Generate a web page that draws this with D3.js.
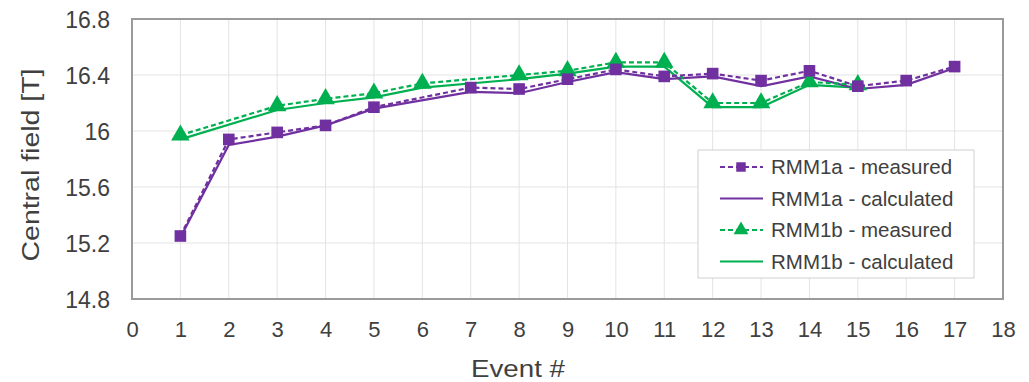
<!DOCTYPE html>
<html>
<head>
<meta charset="utf-8">
<script src="https://cdn.jsdelivr.net/npm/d3@7"></script>
<style>
  body { margin: 0; background: #fff; }
  svg { font-family: Arial, "Liberation Sans", sans-serif; }
</style>
</head>
<body>
<svg width="1029" height="382"></svg>
<script>
// event numbers and the four series (null = no point at that event)
const events = [1, 2, 3, 4, 5, 6, 7, 8, 9, 10, 11, 12, 13, 14, 15, 16, 17];
const rmm1aMeasured   = [15.25, 15.94, 15.99, 16.04, 16.17, null, 16.31, 16.30, 16.37, 16.44, 16.39, 16.41, 16.36, 16.43, 16.32, 16.36, 16.46];
const rmm1aCalculated = [15.24, 15.90, 15.96, 16.04, 16.16, null, 16.28, 16.27, 16.35, 16.42, 16.37, 16.39, 16.32, 16.39, 16.30, 16.33, 16.45];
const rmm1bMeasured   = [15.97, null, 16.18, 16.23, 16.27, 16.34, null, 16.40, 16.43, 16.49, 16.49, 16.20, 16.20, 16.35, 16.33, null, null];
const rmm1bCalculated = [15.94, null, 16.15, 16.20, 16.24, 16.31, null, 16.37, 16.41, 16.46, 16.46, 16.17, 16.17, 16.33, 16.31, null, null];
const xTicks = d3.range(0, 19);
const yTicks = [14.8, 15.2, 15.6, 16, 16.4, 16.8];

const purple = "#7030a0";
const green = "#00b050";
const textColor = "#404040";

const series = [
  { name: "RMM1a - measured", values: rmm1aMeasured, color: purple, dash: "5,3", marker: "square" },
  { name: "RMM1a - calculated", values: rmm1aCalculated, color: purple, dash: null, marker: null },
  { name: "RMM1b - measured", values: rmm1bMeasured, color: green, dash: "5,3", marker: "triangle" },
  { name: "RMM1b - calculated", values: rmm1bCalculated, color: green, dash: null, marker: null }
];

const svg = d3.select("svg");
const margin = { left: 132, right: 1003, top: 19, bottom: 299 };

const x = d3.scaleLinear().domain([0, 18]).range([margin.left, margin.right]);
const y = d3.scaleLinear().domain([14.8, 16.8]).range([margin.bottom, margin.top]);

// grid
const grid = svg.append("g").attr("class", "grid");
grid.selectAll("line.v")
  .data(xTicks.slice(1, -1))
  .enter().append("line")
  .attr("x1", d => x(d)).attr("x2", d => x(d))
  .attr("y1", margin.top).attr("y2", margin.bottom)
  .attr("stroke", "#e3e3e3").attr("stroke-width", 1);
grid.selectAll("line.h")
  .data(yTicks.slice(1, -1))
  .enter().append("line")
  .attr("x1", margin.left).attr("x2", margin.right)
  .attr("y1", d => y(d)).attr("y2", d => y(d))
  .attr("stroke", "#e3e3e3").attr("stroke-width", 1);

// frame
svg.append("rect")
  .attr("x", margin.left).attr("y", margin.top)
  .attr("width", margin.right - margin.left)
  .attr("height", margin.bottom - margin.top)
  .attr("fill", "none")
  .attr("stroke", "#9a9a9a")
  .attr("stroke-width", 2);

// axes (labels only, like the original)
const xAxis = svg.append("g")
  .attr("transform", `translate(0,${margin.bottom})`)
  .call(d3.axisBottom(x).tickValues(xTicks).tickSize(0).tickFormat(d3.format("d")));
xAxis.select(".domain").remove();
xAxis.selectAll("text")
  .attr("y", 38)
  .attr("dy", null)
  .attr("font-size", 22)
  .attr("fill", textColor)
  .attr("font-family", "Arial, 'Liberation Sans', sans-serif");

const yAxis = svg.append("g")
  .attr("transform", `translate(${margin.left - 22},0)`)
  .call(d3.axisLeft(y).tickValues(yTicks).tickSize(0).tickFormat(d => String(d)));
yAxis.select(".domain").remove();
yAxis.selectAll("text")
  .attr("x", 0)
  .attr("dy", "0.36em")
  .attr("font-size", 23)
  .attr("fill", textColor)
  .attr("font-family", "Arial, 'Liberation Sans', sans-serif");

// axis titles
svg.append("text")
  .attr("x", 518)
  .attr("y", 377)
  .attr("text-anchor", "middle")
  .attr("font-size", 23)
  .attr("textLength", 94)
  .attr("lengthAdjust", "spacingAndGlyphs")
  .attr("fill", textColor)
  .text("Event #");

svg.append("text")
  .attr("transform", `translate(39,165) rotate(-90)`)
  .attr("text-anchor", "middle")
  .attr("font-size", 23)
  .attr("textLength", 193)
  .attr("lengthAdjust", "spacingAndGlyphs")
  .attr("fill", textColor)
  .text("Central field [T]");

// lines
const line = d3.line()
  .x(d => x(d.event))
  .y(d => y(d.value));

const markerPath = {
  square: d3.symbol().type(d3.symbolSquare).size(135)(),
  triangle: d3.symbol().type(d3.symbolTriangle).size(150)()
};
const legendMarker = {
  square: d3.symbol().type(d3.symbolSquare).size(90)(),
  triangle: d3.symbol().type(d3.symbolTriangle).size(95)()
};

// draw calculated first, then measured on top
const drawOrder = [series[3], series[1], series[2], series[0]];
drawOrder.forEach(s => {
  const pts = events.map((e, i) => ({ event: e, value: s.values[i] })).filter(p => p.value != null);
  svg.append("path")
    .datum(pts)
    .attr("d", line)
    .attr("fill", "none")
    .attr("stroke", s.color)
    .attr("stroke-width", 2.2)
    .attr("stroke-dasharray", s.dash);
  if (s.marker) {
    svg.append("g").selectAll("path")
      .data(pts)
      .enter().append("path")
      .attr("d", markerPath[s.marker])
      .attr("transform", d => `translate(${x(d.event)},${y(d.value)})`)
      .attr("fill", s.color);
  }
});

// legend
const legend = svg.append("g").attr("transform", "translate(698,150)");
legend.append("rect")
  .attr("width", 276).attr("height", 128)
  .attr("fill", "#fff")
  .attr("stroke", "#d0d0d0");
series.forEach((s, i) => {
  const g = legend.append("g").attr("transform", `translate(0,${17 + i * 31.5})`);
  g.append("line")
    .attr("x1", 22).attr("x2", 65)
    .attr("stroke", s.color)
    .attr("stroke-width", 2)
    .attr("stroke-dasharray", s.dash);
  if (s.marker) {
    g.append("path")
      .attr("d", legendMarker[s.marker])
      .attr("transform", "translate(43,0)")
      .attr("fill", s.color);
  }
  g.append("text")
    .attr("x", 73)
    .attr("dy", "0.36em")
    .attr("font-size", 20.5)
    .attr("fill", textColor)
    .text(s.name);
});
</script>
</body>
</html>
